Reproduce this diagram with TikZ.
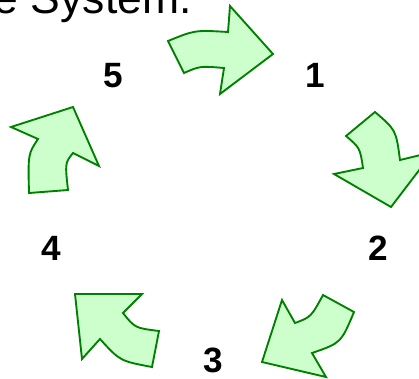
\documentclass[tikz,border=0pt]{standalone}
\usepackage{fontspec}
\setmainfont{Liberation Sans}
\usepackage{tikz}
\usetikzlibrary{positioning}
\definecolor{arrfill}{HTML}{CCFFCC}
\definecolor{arrline}{HTML}{008000}

\begin{document}
\begin{tikzpicture}[
  x=0.03cm, y=-0.03cm,
  num/.style={font=\fontsize{30}{30}\selectfont\bfseries, inner sep=0pt, anchor=base},
  ttl/.style={font=\fontsize{38}{38}\selectfont, inner sep=0pt, anchor=base east},
  cyc/.style={draw=arrline, fill=arrfill, line width=1.6pt, line join=miter}
]
\useasboundingbox (0,0) rectangle (419,378);
\clip (0,0) rectangle (419,378);
% Title
\node[ttl] (title) at (192,13) {e System.};
% Stages
\node[num] (n5) at (113,87) {5};
\node[num] (n1) at (315,87) {1};
\node[num] (n2) at (378,260) {2};
\node[num] (n4) at (51,260) {4};
\node[num] (n3) at (213,372) {3};
% 5 -> 1
\draw[cyc] (168,41) .. controls (195,30) .. (228,32) -- (230,6) -- (273,54)
  -- (220,94) -- (224,68) .. controls (200,66) .. (184,73) -- cycle;
% 1 -> 2
\draw[cyc] (375,112) .. controls (396,130) .. (400,160) -- (433,152) -- (391,207)
  -- (334,174) -- (363,168) .. controls (360,148) .. (346,136) -- cycle;
% 2 -> 3
\draw[cyc] (354,312) .. controls (341,343) .. (312,353) -- (326,377) -- (262,362)
  -- (282,300) -- (295,323) .. controls (311,317) .. (323,295) -- cycle;
% 3 -> 4
\draw[cyc] (152,367) .. controls (120,361) .. (100,339) -- (82,359) -- (75,294)
  -- (142,294) -- (123,313) .. controls (135,328) .. (159,331) -- cycle;
% 4 -> 5
\draw[cyc] (68,190) .. controls (65,163) .. (73,153) -- (99,166) -- (73,107)
  -- (11,127) -- (38,139) .. controls (28,154) .. (29,193) -- cycle;
\end{tikzpicture}
\end{document}
